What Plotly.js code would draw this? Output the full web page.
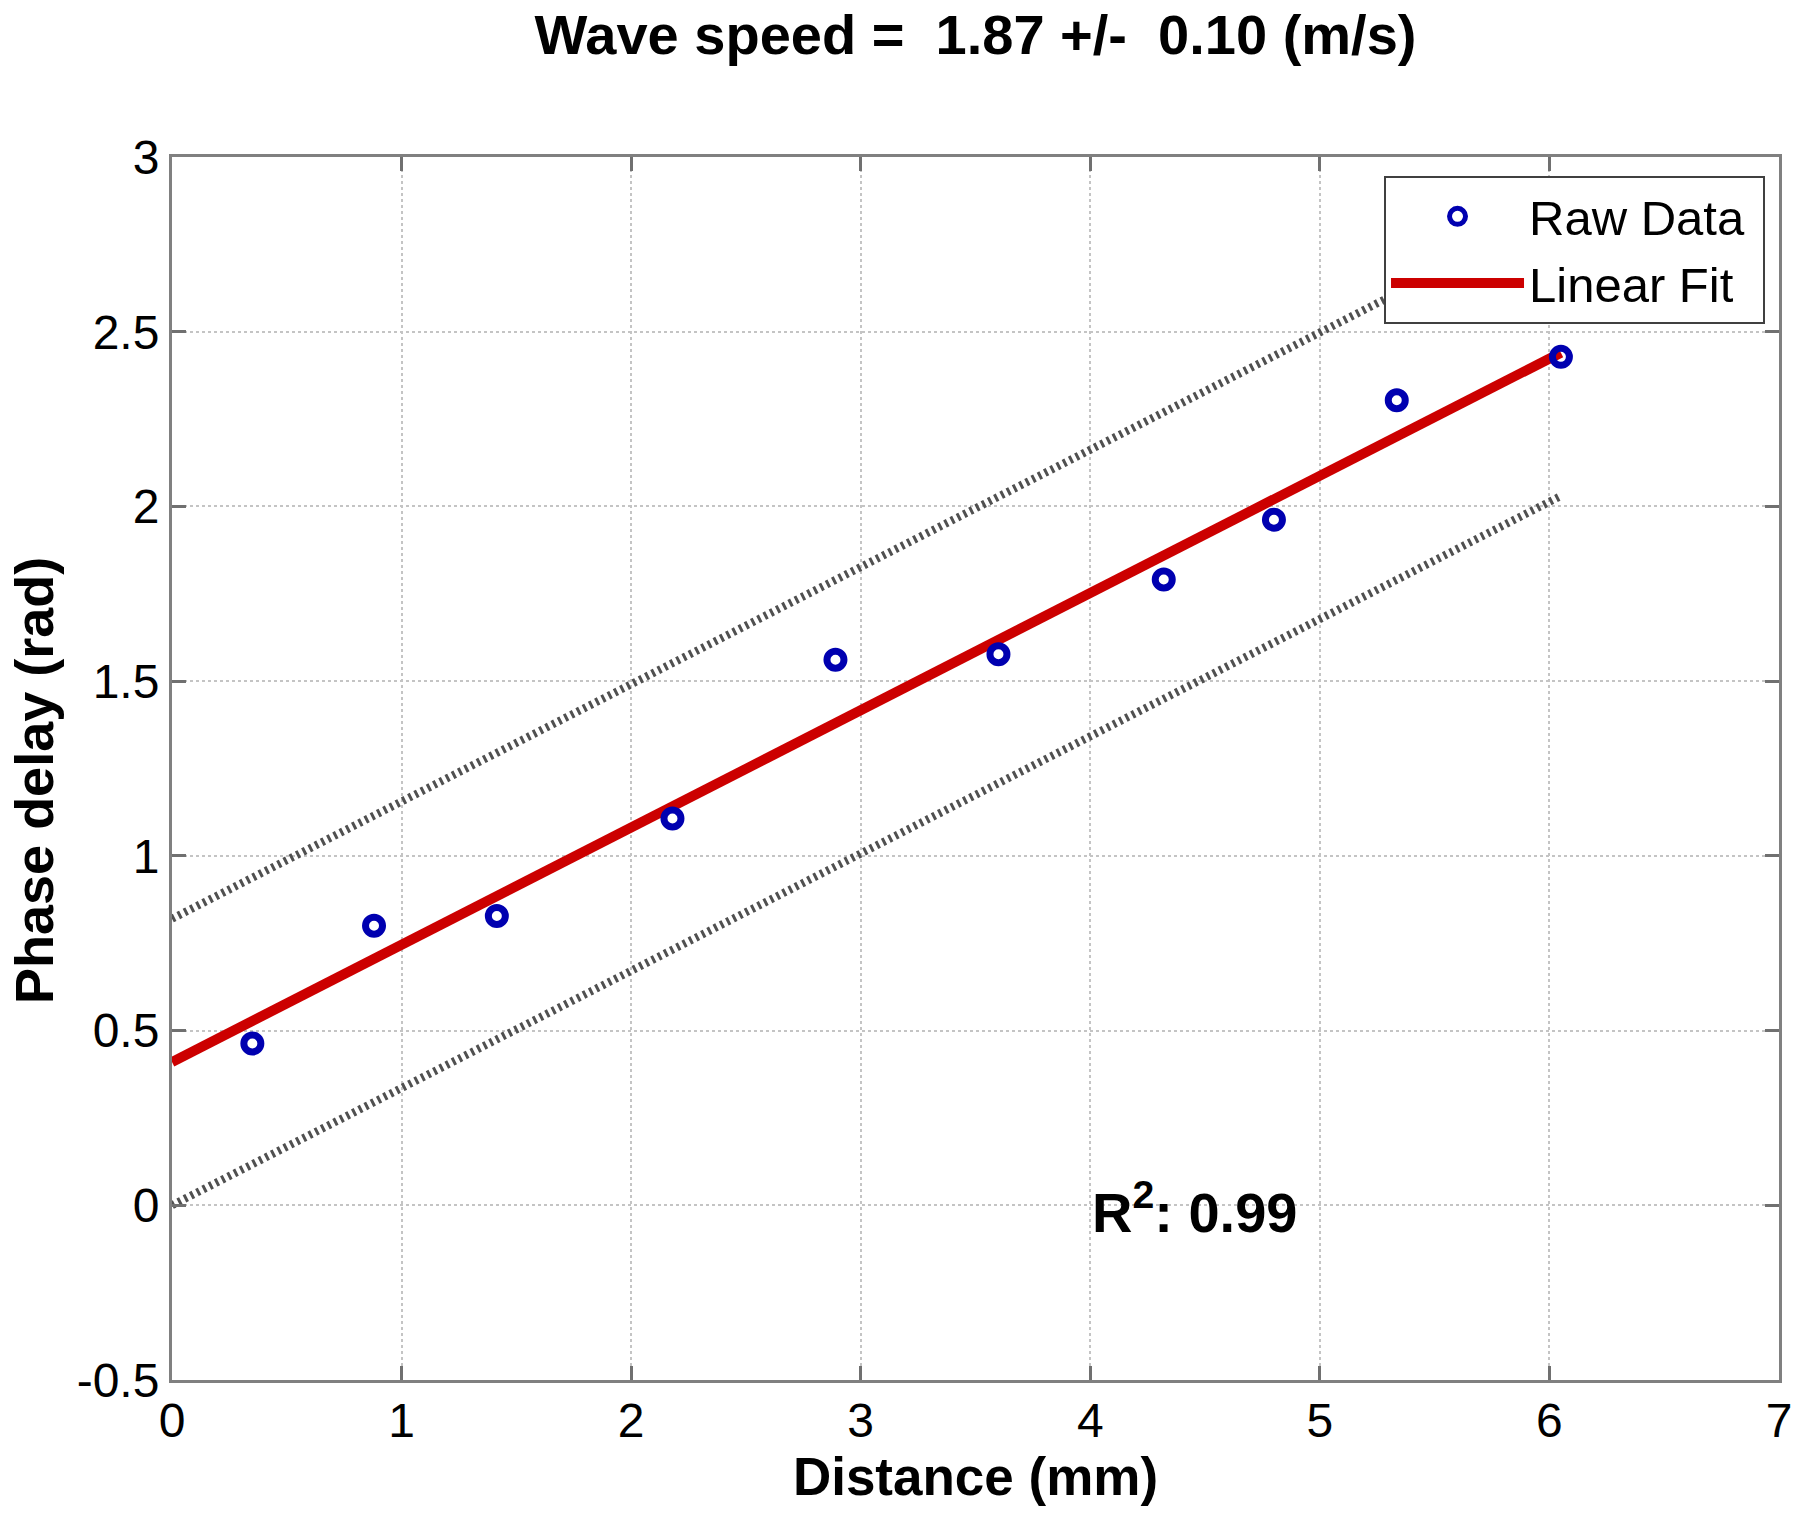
<!DOCTYPE html>
<html>
<head>
<meta charset="utf-8">
<script src="https://cdn.plot.ly/plotly-3.0.1.min.js"></script>
<style>html,body{margin:0;padding:0;background:#fff;}#chart{width:1800px;height:1520px;}</style>
</head>
<body>
<div id="chart"></div>
<script>
// Raw data
const distance = [0.35, 0.88, 1.415, 2.18, 2.89, 3.60, 4.32, 4.80, 5.335, 6.05];
const phaseDelay = [0.463, 0.80, 0.828, 1.107, 1.561, 1.577, 1.791, 1.962, 2.304, 2.428];

// Linear fit and confidence band end points
const fitX = [0, 6.05];
const fitY = [0.41, 2.44];
const upperY = [0.82, 2.85];
const lowerY = [0.0, 2.03];

// Tick labels
const xTickVals = [0, 1, 2, 3, 4, 5, 6, 7];
const xTickText = ["0", "1", "2", "3", "4", "5", "6", "7"];
const yTickVals = [-0.5, 0, 0.5, 1, 1.5, 2, 2.5, 3];
const yTickText = ["-0.5", "0", "0.5", "1", "1.5", "2", "2.5", "3"];

const titleText = "Wave speed =\u00a0\u00a01.87 +/-\u00a0\u00a00.10 (m/s)";
const xTitleText = "Distance (mm)";
const yTitleText = "Phase delay (rad)";
const r2Text = "R<sup>2</sup>: 0.99";

const FONT = '"Liberation Sans", Arial, Helvetica, sans-serif';

const traces = [
  {
    x: fitX, y: upperY, mode: 'lines', showlegend: false, hoverinfo: 'skip',
    line: {color: '#505050', width: 8, dash: '3px,4px'}
  },
  {
    x: fitX, y: lowerY, mode: 'lines', showlegend: false, hoverinfo: 'skip',
    line: {color: '#505050', width: 8, dash: '3px,4px'}
  },
  {
    x: fitX, y: fitY, mode: 'lines', name: 'Linear Fit\u00a0',
    line: {color: '#cc0000', width: 10}
  },
  {
    x: distance, y: phaseDelay, mode: 'markers', name: 'Raw Data\u00a0',
    marker: {symbol: 'circle-open', size: 17, color: '#0000b0', line: {color: '#0000b0', width: 7}}
  }
];

const axisCommon = {
  showline: true, linecolor: '#808080', linewidth: 3, mirror: 'ticks',
  ticks: 'inside', ticklen: 14, tickwidth: 3, tickcolor: '#707070',
  showgrid: true, gridcolor: '#c4c4c4', gridwidth: 2, griddash: 'dot',
  zeroline: false, tickfont: {family: FONT, size: 48, color: '#000'},
  tickmode: 'array'
};

const layout = {
  width: 1800, height: 1520,
  paper_bgcolor: '#fff', plot_bgcolor: '#fff',
  margin: {l: 172, r: 21, t: 157, b: 140},
  font: {family: FONT, color: '#000'},
  title: {
    text: '<b>' + titleText + '</b>',
    font: {family: FONT, size: 56, color: '#000'},
    xref: 'paper', x: 0.5, xanchor: 'center',
    yref: 'container', y: 1 - 34/1520, yanchor: 'middle'
  },
  xaxis: Object.assign({}, axisCommon, {
    range: [0, 7], tickvals: xTickVals, ticktext: xTickText,
    ticklabelstandoff: -4,
    title: {text: '<b>' + xTitleText + '</b>', font: {family: FONT, size: 53, color: '#000'}, standoff: 11}
  }),
  yaxis: Object.assign({}, axisCommon, {
    range: [-0.5, 3], tickvals: yTickVals, ticktext: yTickText,
    ticklabelstandoff: 0
  }),
  legend: {
    x: 0.9913, xanchor: 'right', y: 0.9845, yanchor: 'top',
    bgcolor: '#fff', bordercolor: '#404040', borderwidth: 2,
    font: {family: FONT, size: 49, color: '#000'},
    itemwidth: 133, traceorder: 'reversed'
  },
  annotations: [
    {
      text: '<b>' + yTitleText + '</b>', textangle: -90,
      xref: 'paper', yref: 'paper', x: (34 - 172) / 1607, y: 0.4898,
      xanchor: 'center', yanchor: 'middle', showarrow: false,
      font: {family: FONT, size: 54, color: '#000'}
    },
    {
      text: '<b>' + r2Text + '</b>', x: 4.0, y: -0.01, xref: 'x', yref: 'y',
      xanchor: 'left', yanchor: 'middle', showarrow: false,
      font: {family: FONT, size: 56, color: '#000'}
    }
  ],
  showlegend: true
};

Plotly.newPlot('chart', traces, layout, {staticPlot: true, displayModeBar: false});
</script>
</body>
</html>
